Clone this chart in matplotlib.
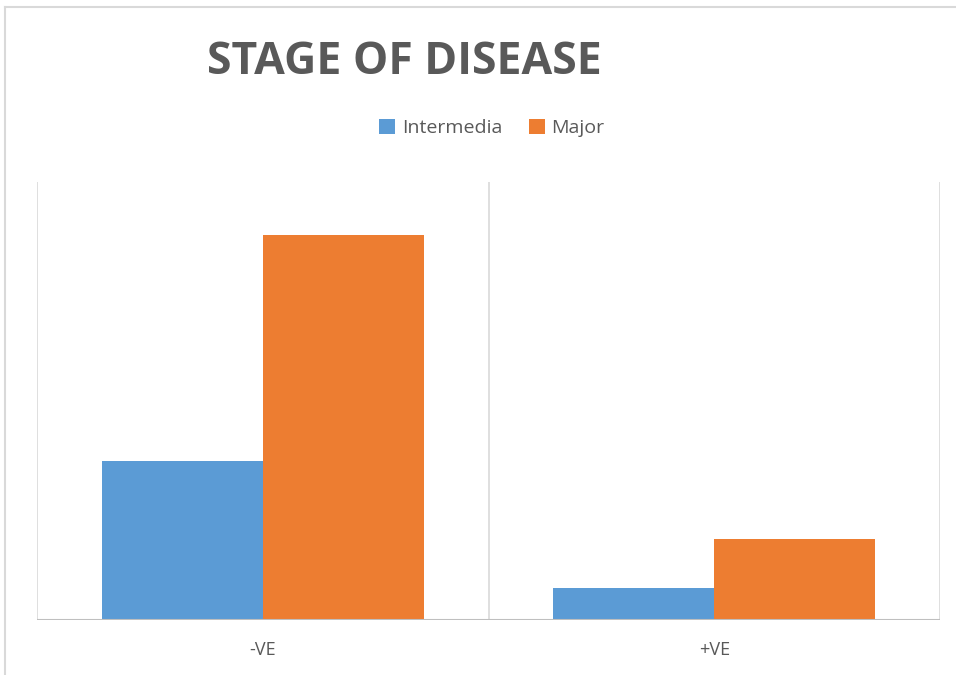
import matplotlib
matplotlib.use("Agg")
import matplotlib.pyplot as plt
import numpy as np
from matplotlib.lines import Line2D

# data (no y axis shown, relative heights)
categories = ["-VE", "+VE"]
intermedia = [19, 3.8]
major = [46, 9.7]
series_names = ["Intermedia", "Major"]

blue = "#5b9bd5"
orange = "#ed7d31"
txt = "#595959"
grid = "#d9d9d9"

W, H = 956, 675
fig = plt.figure(figsize=(W / 100, H / 100), dpi=100)

ax = fig.add_axes([37 / W, (H - 620) / H, (940 - 37) / W, (620 - 182) / H])
x = np.arange(len(categories))
bw = 0.357
ax.bar(x - bw / 2, intermedia, bw, color=blue, label=series_names[0], zorder=3)
ax.bar(x + bw / 2, major, bw, color=orange, label=series_names[1], zorder=3)

ax.set_xlim(-0.5, 1.5)
ax.set_ylim(0, 52.4)
for gx in [-0.5, 0.5, 1.5]:
    ax.axvline(gx, color=grid, lw=1.2, zorder=1)
ax.axhline(0, color="#bfbfbf", lw=1.5, zorder=4)
for s in ax.spines.values():
    s.set_visible(False)
ax.set_yticks([])
ax.set_xticks(x)
ax.set_xticklabels(categories, fontsize=13, color=txt, family="Open Sans")
ax.tick_params(axis="x", length=0, pad=15)

fig.text(404 / W, 1 - 62 / H, "STAGE OF DISEASE", ha="center", va="center",
         fontsize=32, fontweight="bold", color=txt, family="Open Sans")

fig.legend(loc="center", bbox_to_anchor=(492 / W, 1 - 128 / H), ncol=2,
           frameon=False, handlelength=0.8, handleheight=0.8,
           handletextpad=0.35, columnspacing=1.4,
           prop={"family": "Open Sans", "size": 14}, labelcolor=txt)

# outer chart border (top and left edges visible)
fig.add_artist(Line2D([5 / W, 1], [1 - 7 / H, 1 - 7 / H], color="#d9d9d9", lw=1.5))
fig.add_artist(Line2D([5 / W, 5 / W], [0, 1 - 7 / H], color="#d9d9d9", lw=1.5))

fig.savefig("out.png", dpi=100)
